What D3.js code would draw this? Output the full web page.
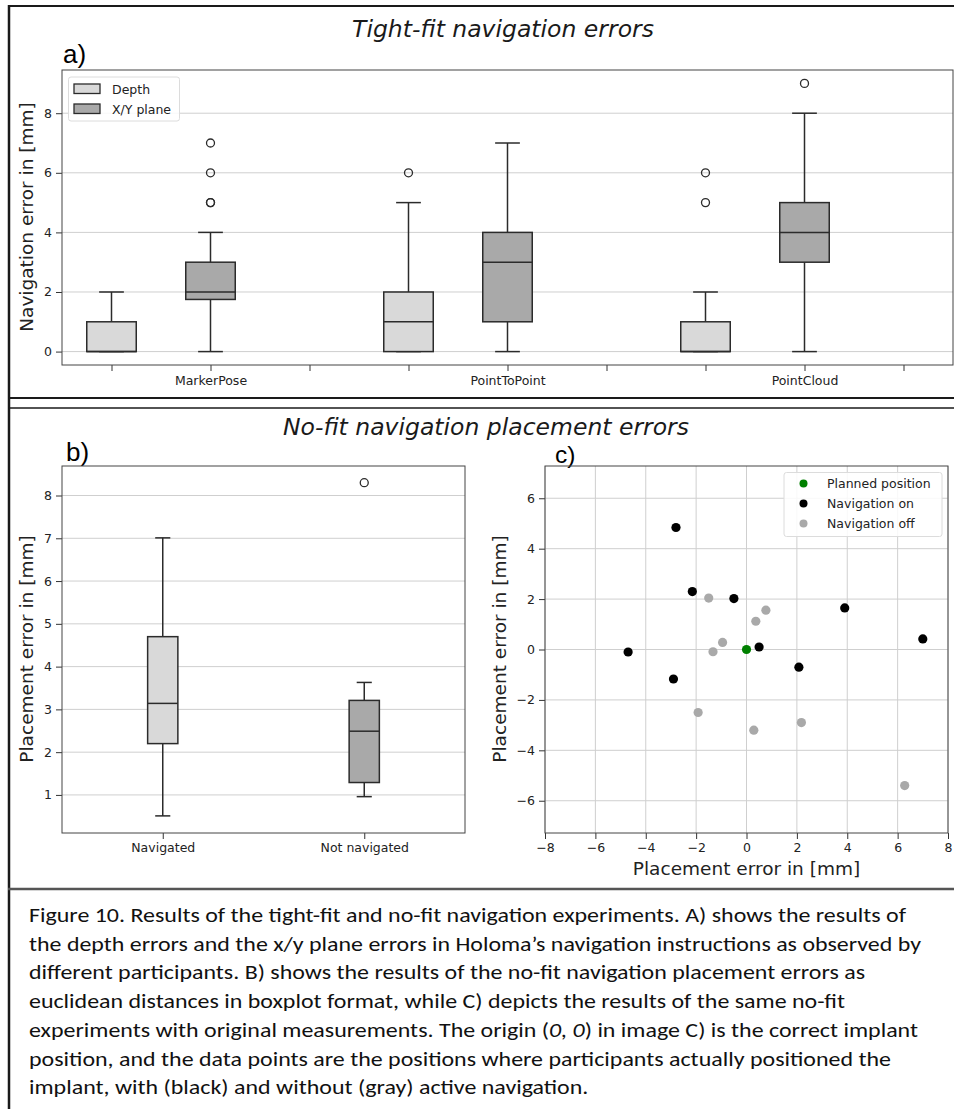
<!DOCTYPE html>
<html>
<head>
<meta charset="utf-8">
<script src="https://cdn.jsdelivr.net/npm/d3@7"></script>
<style>
  body { margin: 0; background: #fff; }
  svg { display: block; }
</style>
</head>
<body>
<svg id="fig" width="954" height="1109"></svg>
<script>
// a) tight-fit: [whisker low, q1, median, q3, whisker high]
var groupsA = ["MarkerPose", "PointToPoint", "PointCloud"];
var seriesA = ["Depth", "X/Y plane"];
var depthBoxes = [[0, 0, 0, 1, 2], [0, 0, 1, 2, 5], [0, 0, 0, 1, 2]];
var depthOutliers = [[], [6], [5, 6]];
var xyBoxes = [[0, 1.75, 2, 3, 4], [0, 1, 3, 4, 7], [0, 3, 4, 5, 8]];
var xyOutliers = [[5, 5, 6, 7], [], [9]];
var ticksA = [0, 2, 4, 6, 8];

// b) no-fit euclidean distances
var groupsB = ["Navigated", "Not navigated"];
var boxesB = [[0.51, 2.2, 3.14, 4.7, 7.01], [0.96, 1.29, 2.49, 3.21, 3.63]];
var outliersB = [[], [8.3]];
var ticksB = [1, 2, 3, 4, 5, 6, 7, 8];

// c) raw placement offsets [x, y]
var planned = [[0, 0]];
var navOn = [[-2.8, 4.84], [-2.15, 2.3], [-0.5, 2.02], [3.9, 1.65], [7.0, 0.42],
             [0.5, 0.1], [-4.7, -0.1], [-2.9, -1.17], [2.08, -0.7]];
var navOff = [[-1.5, 2.04], [0.37, 1.12], [0.77, 1.56], [-0.95, 0.28], [-1.33, -0.09],
              [-1.92, -2.5], [0.29, -3.2], [2.18, -2.9], [6.28, -5.4]];
var ticksCx = [-8, -6, -4, -2, 0, 2, 4, 6, 8];
var ticksCy = [-6, -4, -2, 0, 2, 4, 6];

var caption = [
  ["Figure 10. Results of the tight-fit and no-fit navigation experiments. A) shows the results of"],
  ["the depth errors and the x/y plane errors in Holoma\u2019s navigation instructions as observed by"],
  ["different participants. B) shows the results of the no-fit navigation placement errors as"],
  ["euclidean distances in boxplot format, while C) depicts the results of the same no-fit"],
  ["experiments with original measurements. The origin (", "0, 0", ") in image C) is the correct implant"],
  ["position, and the data points are the positions where participants actually positioned the"],
  ["implant, with (black) and without (gray) active navigation."]
];

var LIGHT = "#d9d9d9", DARK = "#a9a9a9", EDGE = "#2b2b2b";
var FONT = "'DejaVu Sans', Verdana, sans-serif";

var svg = d3.select("#fig");
svg.append("rect").attr("width", 954).attr("height", 1109).attr("fill", "#fff");

function styleAxis(g) {
  g.select(".domain").remove();
  g.selectAll(".tick line").attr("stroke", "#333").attr("stroke-width", 1);
  g.selectAll(".tick text").attr("fill", "#222")
    .style("font-family", FONT).style("font-size", "12.5px");
}

function grid(g, scale, vals, x0, x1, horizontal) {
  g.append("g").selectAll("line").data(vals).enter().append("line")
    .attr("x1", function(d) { return horizontal ? x0 : scale(d); })
    .attr("x2", function(d) { return horizontal ? x1 : scale(d); })
    .attr("y1", function(d) { return horizontal ? scale(d) : x0; })
    .attr("y2", function(d) { return horizontal ? scale(d) : x1; })
    .attr("stroke", "#cfcfcf").attr("stroke-width", 1);
}

function frame(x0, y0, x1, y1) {
  svg.append("rect").attr("x", x0).attr("y", y0)
    .attr("width", x1 - x0).attr("height", y1 - y0)
    .attr("fill", "none").attr("stroke", "#444").attr("stroke-width", 1);
}

function drawBox(g, x, y, pos, s, outs, w, fill) {
  var cx = x(pos), hw = (x(pos + w / 2) - x(pos - w / 2)) / 2, cw = hw / 2;
  var b = g.append("g").attr("stroke", EDGE).attr("stroke-width", 1.5);
  b.append("line").attr("x1", cx).attr("x2", cx).attr("y1", y(s[0])).attr("y2", y(s[1]));
  b.append("line").attr("x1", cx).attr("x2", cx).attr("y1", y(s[3])).attr("y2", y(s[4]));
  b.append("line").attr("x1", cx - cw).attr("x2", cx + cw).attr("y1", y(s[0])).attr("y2", y(s[0]));
  b.append("line").attr("x1", cx - cw).attr("x2", cx + cw).attr("y1", y(s[4])).attr("y2", y(s[4]));
  b.append("rect").attr("x", cx - hw).attr("y", y(s[3]))
    .attr("width", 2 * hw).attr("height", y(s[1]) - y(s[3])).attr("fill", fill);
  b.append("line").attr("x1", cx - hw).attr("x2", cx + hw).attr("y1", y(s[2])).attr("y2", y(s[2]));
  b.selectAll("circle").data(outs).enter().append("circle")
    .attr("cx", cx).attr("cy", function(d) { return y(d); }).attr("r", 4)
    .attr("fill", "none").attr("stroke-width", 1.3);
}

function ylabel(text, x, y) {
  svg.append("text").attr("transform", "translate(" + x + "," + y + ") rotate(-90)")
    .attr("text-anchor", "middle").style("font-family", FONT).style("font-size", "18.5px")
    .attr("fill", "#222").text(text);
}

// ---------- outer panel frames ----------
var fr = svg.append("g").attr("stroke", "#1a1a1a").attr("fill", "none");
fr.append("line").attr("x1", 8).attr("x2", 954).attr("y1", 6).attr("y2", 6).attr("stroke-width", 2);
fr.append("line").attr("x1", 9).attr("x2", 9).attr("y1", 5).attr("y2", 1109).attr("stroke-width", 2.5);
fr.append("line").attr("x1", 8).attr("x2", 954).attr("y1", 398).attr("y2", 398).attr("stroke-width", 2);
fr.append("line").attr("x1", 8).attr("x2", 954).attr("y1", 408).attr("y2", 408).attr("stroke-width", 1.5);
fr.append("line").attr("x1", 8).attr("x2", 954).attr("y1", 889).attr("y2", 889).attr("stroke-width", 2.5).attr("stroke", "#555");

// ---------- titles ----------
svg.append("text").attr("x", 503).attr("y", 37).attr("text-anchor", "middle")
  .style("font-family", FONT).style("font-style", "italic").style("font-size", "23.5px")
  .attr("fill", "#1a1a1a").text("Tight-fit navigation errors");
svg.append("text").attr("x", 486).attr("y", 435).attr("text-anchor", "middle")
  .style("font-family", FONT).style("font-style", "italic").style("font-size", "23.5px")
  .attr("fill", "#1a1a1a").text("No-fit navigation placement errors");

var panelFont = "'Liberation Sans', Arial, sans-serif";
svg.append("text").attr("x", 63).attr("y", 63).style("font-family", panelFont).style("font-size", "26px").text("a)");
svg.append("text").attr("x", 66).attr("y", 461).style("font-family", panelFont).style("font-size", "26px").text("b)");
svg.append("text").attr("x", 555).attr("y", 463).style("font-family", panelFont).style("font-size", "24.5px").text("c)");

// ---------- a) ----------
var xa = d3.scaleLinear().domain([0.5, 9.5]).range([62, 953]);
var ya = d3.scaleLinear().domain([-0.45, 9.45]).range([365, 70]);
var ga = svg.append("g");
grid(ga, ya, ticksA, 62, 953, true);
groupsA.forEach(function(name, i) {
  drawBox(ga, xa, ya, 3 * i + 1, depthBoxes[i], depthOutliers[i], 0.5, LIGHT);
  drawBox(ga, xa, ya, 3 * i + 2, xyBoxes[i], xyOutliers[i], 0.5, DARK);
});
frame(62, 70, 953, 365);
ga.append("g").attr("transform", "translate(62,0)")
  .call(d3.axisLeft(ya).tickValues(ticksA).tickSize(6).tickPadding(4)).call(styleAxis);
ga.append("g").attr("transform", "translate(0,365)")
  .call(d3.axisBottom(xa).tickValues(d3.range(1, 10)).tickSize(6).tickPadding(5)
    .tickFormat(function(p) { return p % 3 === 2 ? groupsA[(p - 2) / 3] : ""; }))
  .call(styleAxis);
ylabel("Navigation error in [mm]", 33, 217);

var legA = ga.append("g");
legA.append("rect").attr("x", 68.5).attr("y", 77).attr("width", 111).attr("height", 44).attr("rx", 2.5)
  .attr("fill", "#fff").attr("fill-opacity", 0.85).attr("stroke", "#dcdcdc");
seriesA.forEach(function(s, i) {
  legA.append("rect").attr("x", 74).attr("y", 84 + 20 * i).attr("width", 26).attr("height", 9.5)
    .attr("fill", i === 0 ? LIGHT : DARK).attr("stroke", EDGE).attr("stroke-width", 1.3);
  legA.append("text").attr("x", 112).attr("y", 94 + 20 * i).style("font-family", FONT)
    .style("font-size", "12.5px").attr("fill", "#222").text(s);
});

// ---------- b) ----------
var xb = d3.scaleLinear().domain([0.5, 2.5]).range([62, 465]);
var yb = d3.scaleLinear().domain([0.11, 8.69]).range([833, 466]);
var gb = svg.append("g");
grid(gb, yb, ticksB, 62, 465, true);
groupsB.forEach(function(name, i) {
  drawBox(gb, xb, yb, i + 1, boxesB[i], outliersB[i], 0.15, i === 0 ? LIGHT : DARK);
});
frame(62, 466, 465, 833);
gb.append("g").attr("transform", "translate(62,0)")
  .call(d3.axisLeft(yb).tickValues(ticksB).tickSize(6).tickPadding(4)).call(styleAxis);
gb.append("g").attr("transform", "translate(0,833)")
  .call(d3.axisBottom(xb).tickValues([1, 2]).tickSize(6).tickPadding(4.5)
    .tickFormat(function(p) { return groupsB[p - 1]; }))
  .call(styleAxis);
ylabel("Placement error in [mm]", 33, 649);

// ---------- c) ----------
var xc = d3.scaleLinear().domain([-8, 8]).range([545, 948]);
var yc = d3.scaleLinear().domain([-7.28, 7.28]).range([833, 466]);
var gc = svg.append("g");
grid(gc, xc, ticksCx, 466, 833, false);
grid(gc, yc, ticksCy, 545, 948, true);

function dots(data, color, r) {
  gc.append("g").selectAll("circle").data(data).enter().append("circle")
    .attr("cx", function(d) { return xc(d[0]); })
    .attr("cy", function(d) { return yc(d[1]); })
    .attr("r", r).attr("fill", color);
}
dots(navOn, "#000", 4.6);
dots(navOff, DARK, 4.6);
dots(planned, "green", 4.6);

frame(545, 466, 948, 833);
gc.append("g").attr("transform", "translate(545,0)")
  .call(d3.axisLeft(yc).tickValues(ticksCy).tickSize(6).tickPadding(4)).call(styleAxis);
gc.append("g").attr("transform", "translate(0,833)")
  .call(d3.axisBottom(xc).tickValues(ticksCx).tickSize(6).tickPadding(4.5)).call(styleAxis);
ylabel("Placement error in [mm]", 506, 649);
svg.append("text").attr("x", 746.5).attr("y", 875).attr("text-anchor", "middle")
  .style("font-family", FONT).style("font-size", "18.5px").attr("fill", "#222")
  .text("Placement error in [mm]");

var legC = gc.append("g");
legC.append("rect").attr("x", 784).attr("y", 472.5).attr("width", 158).attr("height", 64).attr("rx", 2.5)
  .attr("fill", "#fff").attr("fill-opacity", 0.85).attr("stroke", "#dcdcdc");
[["Planned position", "green"], ["Navigation on", "#000"], ["Navigation off", DARK]].forEach(function(e, i) {
  legC.append("circle").attr("cx", 803.5).attr("cy", 483.5 + 20 * i).attr("r", 4).attr("fill", e[1]);
  legC.append("text").attr("x", 827).attr("y", 488 + 20 * i).style("font-family", FONT)
    .style("font-size", "12.5px").attr("fill", "#222").text(e[0]);
});

// ---------- caption ----------
var capTargets = [877, 892, 836, 816, 889, 862, null];
var capG = svg.append("g");
var ratios = [];
var capNodes = caption.map(function(parts, i) {
  var t = capG.append("text").attr("x", 29).attr("y", 922 + 28.7 * i)
    .style("font-family", "Carlito, Lato, 'Liberation Sans', Arial, sans-serif")
    .style("font-size", "20.5px").attr("fill", "#111");
  parts.forEach(function(p, j) {
    t.append("tspan").style("font-style", j === 1 ? "italic" : "normal").text(p);
  });
  var w = t.node().getComputedTextLength();
  if (capTargets[i]) ratios.push(capTargets[i] / w);
  return [t, w];
});
var meanRatio = d3.mean(ratios);
capNodes.forEach(function(n, i) {
  var target = capTargets[i] || n[1] * meanRatio;
  n[0].attr("textLength", target).attr("lengthAdjust", "spacingAndGlyphs");
});
</script>
</body>
</html>
